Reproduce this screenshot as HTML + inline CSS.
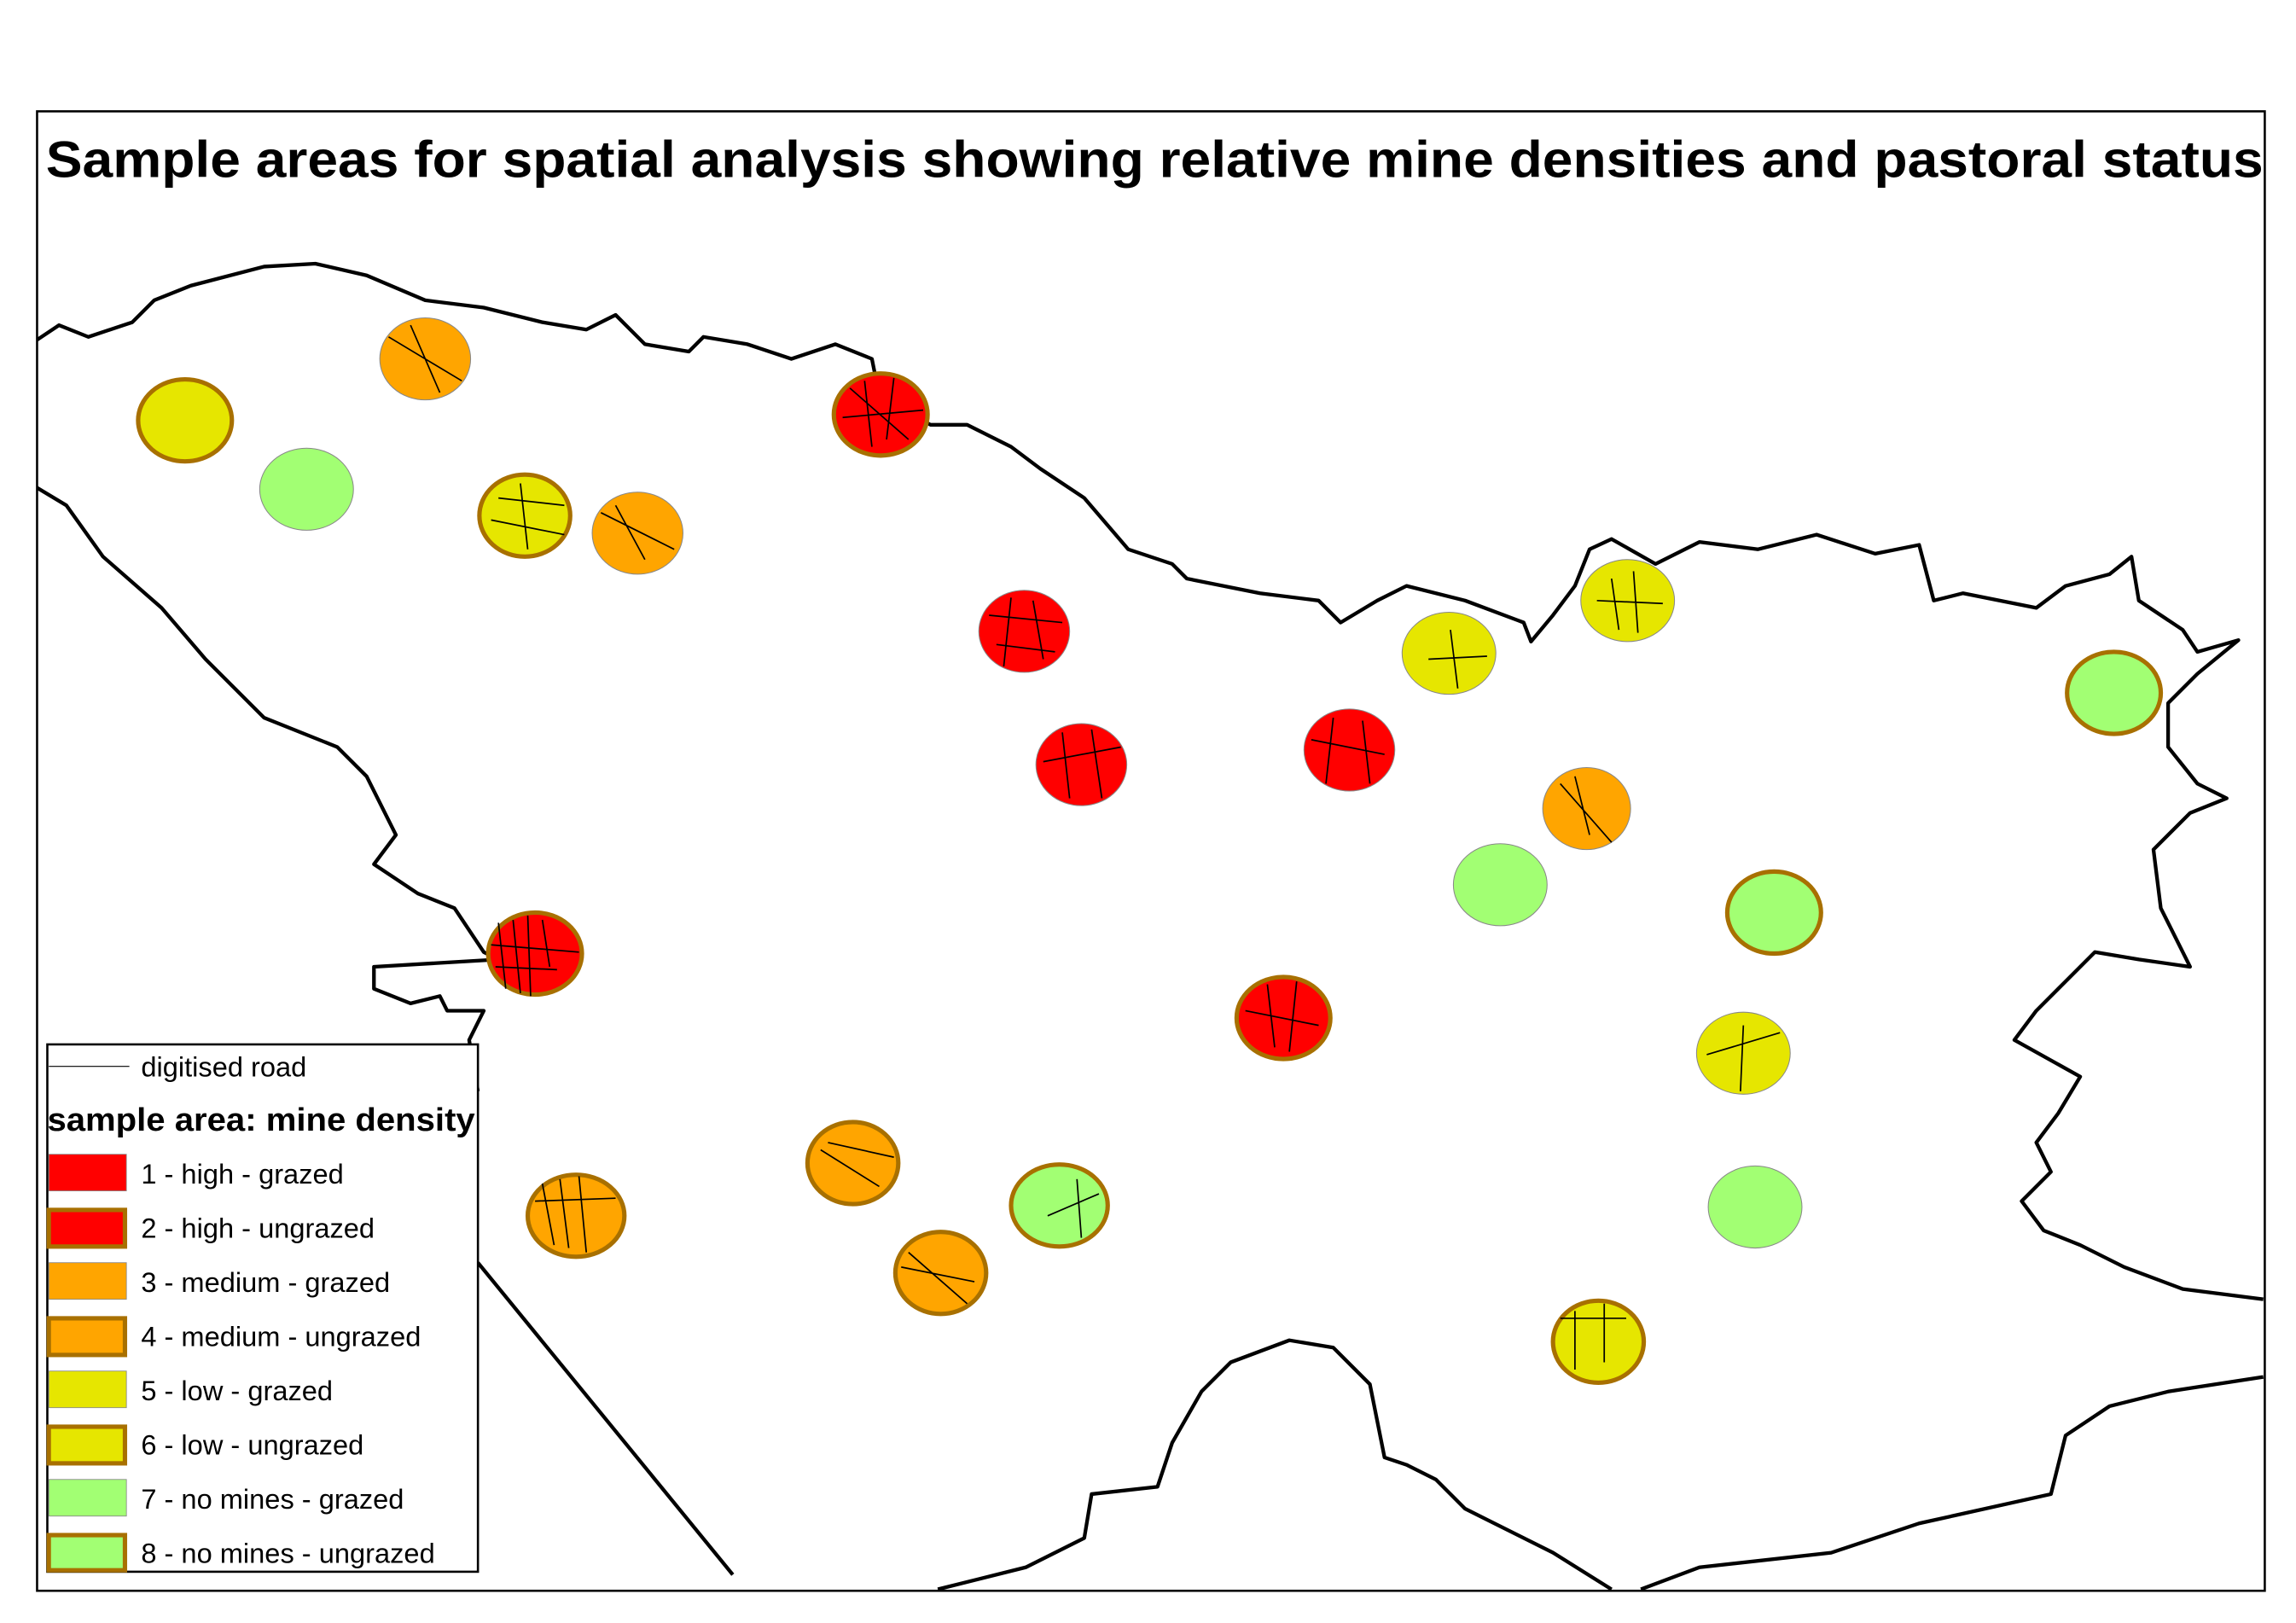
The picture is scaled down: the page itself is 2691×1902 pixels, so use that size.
<!DOCTYPE html>
<html><head><meta charset="utf-8"><style>html,body{margin:0;padding:0;background:#fff}svg{display:block}</style></head><body>
<svg width="2691" height="1902" viewBox="0 0 1567 1108" xmlns="http://www.w3.org/2000/svg" font-family="Liberation Sans, sans-serif">
<rect x="0" y="0" width="1567" height="1108" fill="#fff"/>
<rect x="25" y="76" width="1521" height="1010" fill="none" stroke="#000" stroke-width="1.5"/>
<text x="31" y="121" font-size="35" font-weight="bold" textLength="1514" lengthAdjust="spacingAndGlyphs">Sample areas for spatial analysis showing relative mine densities and pastoral status</text>
<g fill="none" stroke="#000" stroke-width="2.5" stroke-linejoin="round">
<polyline points="25,232 40,222 60,230 90,220 105,205 130,195 180,182 215,180 250,188 290,205 330,210 370,220 400,225 420,215 440,235 470,240 480,230 510,235 540,245 570,235 595,245 600,270 635,290 660,290 690,305 710,320 740,340 770,375 800,385 810,395 860,405 900,410 915,425 940,410 960,400 1000,410 1040,425 1045,438 1060,420 1075,400 1085,375 1100,368 1130,385 1160,370 1200,375 1240,365 1280,378 1310,372 1320,410 1340,405 1390,415 1410,400 1440,392 1455,380 1460,410 1490,430 1500,445 1528,437 1500,460 1480,480 1480,510 1500,535 1520,545 1495,555 1470,580 1475,620 1495,660 1460,655 1430,650 1410,670 1390,690 1375,710 1420,735 1405,760 1390,780 1400,800 1380,820 1395,840 1420,850 1450,865 1490,880 1545,887"/>
<polyline points="25,333 45,345 70,380 110,415 140,450 180,490 230,510 250,530 270,570 255,590 285,610 310,620 330,650 340,655 255,660 255,675 280,685 300,680 305,690 330,690 320,710 326,745"/>
<polyline points="326,862 500,1075"/>
<polyline points="640,1085 700,1070 740,1050 745,1020 790,1015 800,985 820,950 840,930 880,915 910,920 935,945 945,995 960,1000 980,1010 1000,1030 1060,1060 1100,1085"/>
<polyline points="1120,1085 1160,1070 1250,1060 1310,1040 1400,1020 1410,980 1440,960 1480,950 1545,940"/>
</g>
<g stroke-width="3">
<ellipse cx="290" cy="245" rx="31" ry="28" fill="#ffa500" stroke="#888" stroke-width="0.6"/>
<ellipse cx="126" cy="287" rx="32" ry="28" fill="#e6e600" stroke="#a87000"/>
<ellipse cx="209" cy="334" rx="32" ry="28" fill="#a2ff73" stroke="#888" stroke-width="0.6"/>
<ellipse cx="358" cy="352" rx="31" ry="28" fill="#e6e600" stroke="#a87000"/>
<ellipse cx="435" cy="364" rx="31" ry="28" fill="#ffa500" stroke="#888" stroke-width="0.6"/>
<ellipse cx="601" cy="283" rx="32" ry="28" fill="#ff0000" stroke="#a87000"/>
<ellipse cx="699" cy="431" rx="31" ry="28" fill="#ff0000" stroke="#888" stroke-width="0.6"/>
<ellipse cx="738" cy="522" rx="31" ry="28" fill="#ff0000" stroke="#888" stroke-width="0.6"/>
<ellipse cx="921" cy="512" rx="31" ry="28" fill="#ff0000" stroke="#888" stroke-width="0.6"/>
<ellipse cx="989" cy="446" rx="32" ry="28" fill="#e6e600" stroke="#888" stroke-width="0.6"/>
<ellipse cx="1111" cy="410" rx="32" ry="28" fill="#e6e600" stroke="#888" stroke-width="0.6"/>
<ellipse cx="1443" cy="473" rx="32" ry="28" fill="#a2ff73" stroke="#a87000"/>
<ellipse cx="1083" cy="552" rx="30" ry="28" fill="#ffa500" stroke="#888" stroke-width="0.6"/>
<ellipse cx="1024" cy="604" rx="32" ry="28" fill="#a2ff73" stroke="#888" stroke-width="0.6"/>
<ellipse cx="1211" cy="623" rx="32" ry="28" fill="#a2ff73" stroke="#a87000"/>
<ellipse cx="365" cy="651" rx="32" ry="28" fill="#ff0000" stroke="#a87000"/>
<ellipse cx="876" cy="695" rx="32" ry="28" fill="#ff0000" stroke="#a87000"/>
<ellipse cx="1190" cy="719" rx="32" ry="28" fill="#e6e600" stroke="#888" stroke-width="0.6"/>
<ellipse cx="582" cy="794" rx="31" ry="28" fill="#ffa500" stroke="#a87000"/>
<ellipse cx="393" cy="830" rx="33" ry="28" fill="#ffa500" stroke="#a87000"/>
<ellipse cx="723" cy="823" rx="33" ry="28" fill="#a2ff73" stroke="#a87000"/>
<ellipse cx="642" cy="869" rx="31" ry="28" fill="#ffa500" stroke="#a87000"/>
<ellipse cx="1198" cy="824" rx="32" ry="28" fill="#a2ff73" stroke="#888" stroke-width="0.6"/>
<ellipse cx="1091" cy="916" rx="31" ry="28" fill="#e6e600" stroke="#a87000"/>
</g>
<g stroke="#000" stroke-width="1" fill="none">
<path d="M340,630 L345,675 M350,628 L355,678 M360,625 L362,680 M335,645 L395,650 M338,660 L380,662 M370,628 L375,660"/>
<path d="M580,265 L620,300 M590,260 L595,305 M610,258 L605,300 M575,285 L630,280"/>
<path d="M675,420 L725,425 M690,408 L685,455 M705,410 L712,450 M680,440 L720,445"/>
<path d="M712,520 L765,510 M725,500 L730,545 M745,498 L752,545"/>
<path d="M895,505 L945,515 M910,490 L905,535 M930,492 L935,535"/>
<path d="M850,690 L900,700 M865,672 L870,715 M885,670 L880,718"/>
<path d="M370,808 L378,850 M382,805 L388,852 M395,803 L400,855 M365,820 L420,818"/>
<path d="M560,785 L600,810 M565,780 L610,790 M620,855 L660,890 M615,865 L665,875"/>
<path d="M265,230 L315,260 M280,222 L300,268 M410,350 L460,375 M420,345 L440,382"/>
<path d="M340,340 L385,345 M335,355 L385,365 M355,330 L360,375"/>
<path d="M1100,395 L1105,430 M1115,390 L1118,432 M1090,410 L1135,412"/>
<path d="M1065,535 L1100,575 M1075,530 L1085,570"/>
<path d="M1165,720 L1215,705 M1190,700 L1188,745"/>
<path d="M1065,900 L1110,900 M1075,895 L1075,935 M1095,890 L1095,930"/>
<path d="M990,430 L995,470 M975,450 L1015,448"/>
<path d="M715,830 L750,815 M735,805 L738,845"/>
</g>
<rect x="32" y="713" width="294" height="360" fill="#fff" stroke="#000" stroke-width="1.5"/>
<line x1="33" y1="728" x2="88" y2="728" stroke="#000" stroke-width="0.7"/>
<text x="96" y="735" font-size="19">digitised road</text>
<text x="32" y="772" font-size="22" font-weight="bold" textLength="292" lengthAdjust="spacingAndGlyphs">sample area: mine density</text>
<g font-size="19">
<rect x="33" y="788" width="53" height="25" fill="#ff0000" stroke="#888" stroke-width="0.5"/>
<text x="96" y="808">1 - high - grazed</text>
<rect x="33" y="826" width="52" height="25" fill="#ff0000" stroke="#a87000" stroke-width="3"/>
<text x="96" y="845">2 - high - ungrazed</text>
<rect x="33" y="862" width="53" height="25" fill="#ffa500" stroke="#888" stroke-width="0.5"/>
<text x="96" y="882">3 - medium - grazed</text>
<rect x="33" y="900" width="52" height="25" fill="#ffa500" stroke="#a87000" stroke-width="3"/>
<text x="96" y="919">4 - medium - ungrazed</text>
<rect x="33" y="936" width="53" height="25" fill="#e6e600" stroke="#888" stroke-width="0.5"/>
<text x="96" y="956">5 - low - grazed</text>
<rect x="33" y="974" width="52" height="25" fill="#e6e600" stroke="#a87000" stroke-width="3"/>
<text x="96" y="993">6 - low - ungrazed</text>
<rect x="33" y="1010" width="53" height="25" fill="#a2ff73" stroke="#888" stroke-width="0.5"/>
<text x="96" y="1030">7 - no mines - grazed</text>
<rect x="33" y="1048" width="52" height="24" fill="#a2ff73" stroke="#a87000" stroke-width="3"/>
<text x="96" y="1067">8 - no mines - ungrazed</text>
</g>
</svg>
</body></html>
